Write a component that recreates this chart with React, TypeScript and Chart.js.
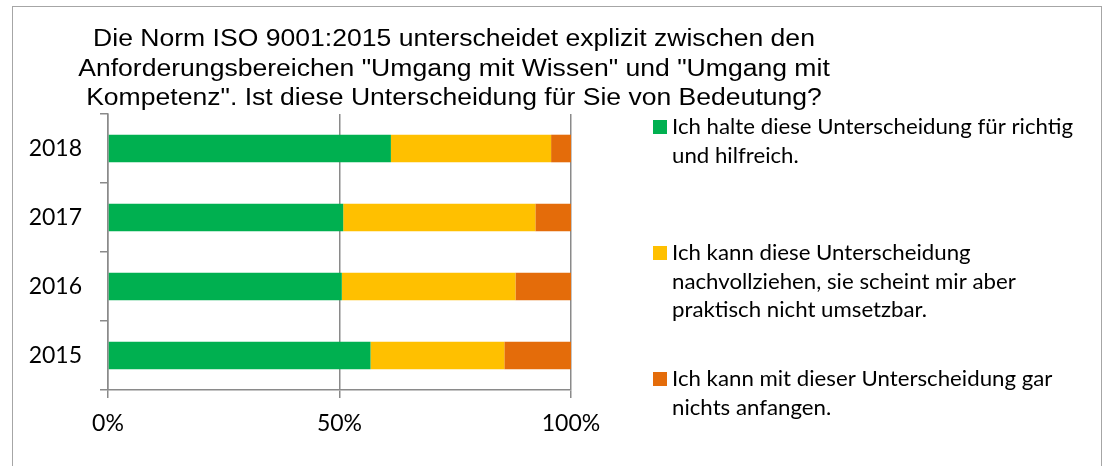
import React, { useEffect, useRef } from "react";
import { Chart, registerables } from "chart.js";

Chart.register(...registerables);

const years = ["2018", "2017", "2016", "2015"];
const helpful = [61.1, 50.8, 50.5, 56.7];
const notPractical = [34.6, 41.5, 37.5, 28.9];
const noUse = [4.3, 7.7, 12.0, 14.4];
const seriesNames = [
  "Ich halte diese Unterscheidung für richtig\nund hilfreich.",
  "Ich kann diese Unterscheidung\nnachvollziehen, sie scheint mir aber\npraktisch nicht umsetzbar.",
  "Ich kann mit dieser Unterscheidung gar\nnichts anfangen.",
];
const seriesColors = ["#00B050", "#FFC000", "#E46C0A"];
const xTicks = [0, 50, 100];
const titleLines = [
  "Die Norm ISO 9001:2015 unterscheidet explizit zwischen den",
  'Anforderungsbereichen "Umgang mit Wissen" und "Umgang mit',
  'Kompetenz". Ist diese Unterscheidung für Sie von Bedeutung?',
];

const GRID = "#8a8a8a";

function stretchedText(ctx: any, text: string, x: number, y: number, sx: number) {
  ctx.save();
  ctx.translate(x, y);
  ctx.scale(sx, 1);
  ctx.fillText(text, 0, 0);
  ctx.restore();
}

const framePlugin = {
  id: "frame",
  beforeDraw(chart: any) {
    const ctx = chart.ctx;
    ctx.save();
    ctx.fillStyle = "#ffffff";
    ctx.fillRect(0, 0, chart.width, chart.height);
    ctx.strokeStyle = "#a6a6a6";
    ctx.lineWidth = 1;
    ctx.strokeRect(12.5, 6.5, 1089, 520);
    ctx.restore();
  },
};

const titlePlugin = {
  id: "customTitle",
  afterDraw(chart: any) {
    const ctx = chart.ctx;
    ctx.save();
    ctx.fillStyle = "#000000";
    ctx.font = '23.5px "Liberation Sans", Arial, sans-serif';
    ctx.textAlign = "center";
    ctx.textBaseline = "alphabetic";
    titleLines.forEach((line, i) => {
      stretchedText(ctx, line, 454, 46 + i * 29.5, 1.13);
    });
    ctx.restore();
  },
};

const legendPlugin = {
  id: "customLegend",
  afterDraw(chart: any) {
    const ctx = chart.ctx;
    ctx.save();
    ctx.font = '20.5px Lato, "Noto Sans", sans-serif';
    ctx.textAlign = "left";
    ctx.textBaseline = "alphabetic";
    chart.data.datasets.forEach((ds: any, i: number) => {
      const base = 134 + i * 126;
      ctx.fillStyle = ds.backgroundColor;
      ctx.fillRect(653, base - 14, 14, 14);
      ctx.fillStyle = "#000000";
      seriesNames[i].split("\n").forEach((line, j) => {
        stretchedText(ctx, line, 672, base + j * 28.5, 1.085);
      });
    });
    ctx.restore();
  },
};

export default function App() {
  const ref = useRef<HTMLCanvasElement | null>(null);
  useEffect(() => {
    document.body.style.margin = "0";
    const values = [helpful, notPractical, noUse];
    const chart = new Chart(ref.current as HTMLCanvasElement, {
      type: "bar",
      data: {
        labels: years,
        datasets: values.map((v, i) => ({
          label: seriesNames[i].replace(/\n/g, " "),
          data: v,
          backgroundColor: seriesColors[i],
          borderWidth: 0,
          barPercentage: 0.4,
          categoryPercentage: 1,
        })),
      },
      options: {
        indexAxis: "y",
        animation: false,
        responsive: false,
        devicePixelRatio: 1,
        layout: { padding: { left: 0, right: 535, top: 114, bottom: 0 } },
        plugins: {
          legend: { display: false },
          title: { display: false },
          tooltip: { enabled: false },
        },
        scales: {
          x: {
            stacked: true,
            min: 0,
            max: 100,
            afterBuildTicks: (scale: any) => {
              scale.ticks = xTicks.map((v) => ({ value: v }));
            },
            afterFit: (scale: any) => {
              scale.height = 76;
            },
            grid: {
              color: GRID,
              lineWidth: 1.5,
              drawTicks: true,
              tickLength: 8,
            },
            border: { display: true, color: GRID, width: 1.5 },
            ticks: {
              color: "#000000",
              padding: 12,
              maxRotation: 0,
              font: { family: 'Lato, "Noto Sans", sans-serif', size: 23 },
              callback: (v: any) => v + "%",
            },
          },
          y: {
            stacked: true,
            afterFit: (scale: any) => {
              scale.width = 108;
            },
            grid: {
              color: GRID,
              lineWidth: 1.5,
              drawOnChartArea: false,
              drawTicks: true,
              tickLength: 8,
              offset: true,
            },
            border: { display: true, color: GRID, width: 1.5 },
            ticks: {
              color: "#000000",
              padding: 18,
              font: { family: 'Lato, "Noto Sans", sans-serif', size: 23 },
            },
          },
        },
      },
      plugins: [framePlugin, titlePlugin, legendPlugin],
    } as any);
    return () => chart.destroy();
  }, []);
  return (
    <div style={{ width: 1106, height: 466 }}>
      <canvas ref={ref} width={1106} height={466} />
    </div>
  );
}
